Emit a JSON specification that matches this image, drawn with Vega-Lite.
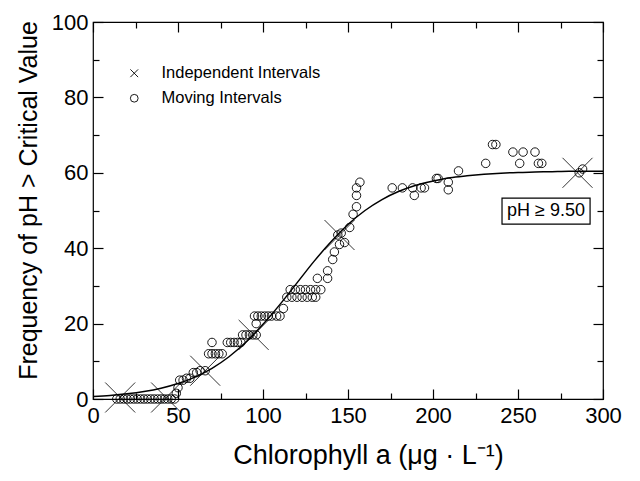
{
  "$schema": "https://vega.github.io/schema/vega-lite/v6.json",
  "width": 510,
  "height": 377,
  "autosize": "none",
  "padding": {"left": 93, "top": 22, "right": 37, "bottom": 82},
  "background": "white",
  "config": {
    "view": {"stroke": "black", "strokeWidth": 1.2},
    "font": "Liberation Sans",
    "axis": {"grid": false, "domain": false, "tickColor": "black", "tickWidth": 1.2, "labelColor": "black", "labelFont": "Liberation Sans", "titleFont": "Liberation Sans", "titleFontWeight": "normal", "titleColor": "black", "labelFlush": false, "labelOverlap": false}
  },
  "datasets": {
    "curve": [
      {"x": 0, "y": 0.65}, {"x": 10, "y": 0.95}, {"x": 20, "y": 1.38}, {"x": 30, "y": 1.99}, {"x": 40, "y": 2.86},
      {"x": 50, "y": 4.1}, {"x": 60, "y": 5.81}, {"x": 70, "y": 8.13}, {"x": 80, "y": 11.2}, {"x": 90, "y": 15.1},
      {"x": 100, "y": 19.8}, {"x": 110, "y": 25.1}, {"x": 120, "y": 30.8}, {"x": 130, "y": 36.5}, {"x": 140, "y": 41.7},
      {"x": 150, "y": 46.3}, {"x": 160, "y": 50.0}, {"x": 170, "y": 52.9}, {"x": 180, "y": 55.1}, {"x": 190, "y": 56.7},
      {"x": 200, "y": 57.8}, {"x": 210, "y": 58.7}, {"x": 220, "y": 59.2}, {"x": 230, "y": 59.6}, {"x": 240, "y": 59.9},
      {"x": 250, "y": 60.1}, {"x": 260, "y": 60.2}, {"x": 270, "y": 60.3}, {"x": 280, "y": 60.4}, {"x": 290, "y": 60.4}, {"x": 300, "y": 60.4}
    ],
    "indep": [
      {"type": "Independent Intervals", "x": 16, "y": 0.4},
      {"type": "Independent Intervals", "x": 43, "y": 0.4},
      {"type": "Independent Intervals", "x": 66, "y": 7.5},
      {"type": "Independent Intervals", "x": 94.5, "y": 17},
      {"type": "Independent Intervals", "x": 145, "y": 43.5},
      {"type": "Independent Intervals", "x": 285, "y": 60}
    ],
    "moving": [
      {"type": "Moving Intervals", "x": 14, "y": 0}, {"type": "Moving Intervals", "x": 16, "y": 0}, {"type": "Moving Intervals", "x": 18, "y": 0},
      {"type": "Moving Intervals", "x": 20, "y": 0}, {"type": "Moving Intervals", "x": 22, "y": 0}, {"type": "Moving Intervals", "x": 24, "y": 0},
      {"type": "Moving Intervals", "x": 26, "y": 0}, {"type": "Moving Intervals", "x": 28, "y": 0}, {"type": "Moving Intervals", "x": 30, "y": 0},
      {"type": "Moving Intervals", "x": 32, "y": 0}, {"type": "Moving Intervals", "x": 34, "y": 0}, {"type": "Moving Intervals", "x": 36, "y": 0},
      {"type": "Moving Intervals", "x": 38, "y": 0}, {"type": "Moving Intervals", "x": 40, "y": 0}, {"type": "Moving Intervals", "x": 42, "y": 0},
      {"type": "Moving Intervals", "x": 44, "y": 0}, {"type": "Moving Intervals", "x": 46, "y": 0}, {"type": "Moving Intervals", "x": 48, "y": 0},
      {"type": "Moving Intervals", "x": 49, "y": 1.5}, {"type": "Moving Intervals", "x": 50, "y": 3}, {"type": "Moving Intervals", "x": 51, "y": 5},
      {"type": "Moving Intervals", "x": 53, "y": 5}, {"type": "Moving Intervals", "x": 55, "y": 5.5}, {"type": "Moving Intervals", "x": 57, "y": 5.5},
      {"type": "Moving Intervals", "x": 59, "y": 7}, {"type": "Moving Intervals", "x": 61, "y": 7}, {"type": "Moving Intervals", "x": 63, "y": 7.5},
      {"type": "Moving Intervals", "x": 66, "y": 7.5},
      {"type": "Moving Intervals", "x": 68, "y": 12}, {"type": "Moving Intervals", "x": 70, "y": 12}, {"type": "Moving Intervals", "x": 72, "y": 12},
      {"type": "Moving Intervals", "x": 74, "y": 12}, {"type": "Moving Intervals", "x": 76, "y": 12}, {"type": "Moving Intervals", "x": 70, "y": 15},
      {"type": "Moving Intervals", "x": 79, "y": 15}, {"type": "Moving Intervals", "x": 81, "y": 15}, {"type": "Moving Intervals", "x": 83, "y": 15},
      {"type": "Moving Intervals", "x": 85, "y": 15}, {"type": "Moving Intervals", "x": 87, "y": 15},
      {"type": "Moving Intervals", "x": 88, "y": 17}, {"type": "Moving Intervals", "x": 90, "y": 17}, {"type": "Moving Intervals", "x": 92, "y": 17},
      {"type": "Moving Intervals", "x": 94, "y": 17}, {"type": "Moving Intervals", "x": 96, "y": 17}, {"type": "Moving Intervals", "x": 96, "y": 20},
      {"type": "Moving Intervals", "x": 95, "y": 22}, {"type": "Moving Intervals", "x": 97, "y": 22}, {"type": "Moving Intervals", "x": 99, "y": 22},
      {"type": "Moving Intervals", "x": 101, "y": 22}, {"type": "Moving Intervals", "x": 103, "y": 22}, {"type": "Moving Intervals", "x": 105, "y": 22},
      {"type": "Moving Intervals", "x": 108, "y": 22}, {"type": "Moving Intervals", "x": 110, "y": 22}, {"type": "Moving Intervals", "x": 112, "y": 24},
      {"type": "Moving Intervals", "x": 114, "y": 27}, {"type": "Moving Intervals", "x": 117, "y": 27}, {"type": "Moving Intervals", "x": 120, "y": 27},
      {"type": "Moving Intervals", "x": 123, "y": 27}, {"type": "Moving Intervals", "x": 126, "y": 27}, {"type": "Moving Intervals", "x": 129, "y": 27},
      {"type": "Moving Intervals", "x": 131, "y": 27},
      {"type": "Moving Intervals", "x": 116, "y": 29}, {"type": "Moving Intervals", "x": 119, "y": 29}, {"type": "Moving Intervals", "x": 122, "y": 29},
      {"type": "Moving Intervals", "x": 125, "y": 29}, {"type": "Moving Intervals", "x": 128, "y": 29}, {"type": "Moving Intervals", "x": 131, "y": 29},
      {"type": "Moving Intervals", "x": 134, "y": 29},
      {"type": "Moving Intervals", "x": 132, "y": 32}, {"type": "Moving Intervals", "x": 138, "y": 32}, {"type": "Moving Intervals", "x": 138, "y": 34},
      {"type": "Moving Intervals", "x": 141, "y": 37}, {"type": "Moving Intervals", "x": 142, "y": 39}, {"type": "Moving Intervals", "x": 145, "y": 41},
      {"type": "Moving Intervals", "x": 148, "y": 41.5}, {"type": "Moving Intervals", "x": 144, "y": 43.5}, {"type": "Moving Intervals", "x": 146, "y": 44},
      {"type": "Moving Intervals", "x": 151, "y": 45.5}, {"type": "Moving Intervals", "x": 153, "y": 49}, {"type": "Moving Intervals", "x": 155, "y": 51},
      {"type": "Moving Intervals", "x": 155, "y": 54}, {"type": "Moving Intervals", "x": 155, "y": 56}, {"type": "Moving Intervals", "x": 157, "y": 57.5},
      {"type": "Moving Intervals", "x": 176, "y": 56}, {"type": "Moving Intervals", "x": 182, "y": 56}, {"type": "Moving Intervals", "x": 188, "y": 56},
      {"type": "Moving Intervals", "x": 193, "y": 56}, {"type": "Moving Intervals", "x": 195, "y": 56}, {"type": "Moving Intervals", "x": 189, "y": 54},
      {"type": "Moving Intervals", "x": 202, "y": 58.5}, {"type": "Moving Intervals", "x": 203, "y": 58.5}, {"type": "Moving Intervals", "x": 209, "y": 57.5},
      {"type": "Moving Intervals", "x": 209, "y": 55.5}, {"type": "Moving Intervals", "x": 215, "y": 60.5}, {"type": "Moving Intervals", "x": 231, "y": 62.5},
      {"type": "Moving Intervals", "x": 235, "y": 67.5}, {"type": "Moving Intervals", "x": 237, "y": 67.5}, {"type": "Moving Intervals", "x": 247, "y": 65.5},
      {"type": "Moving Intervals", "x": 253, "y": 65.5}, {"type": "Moving Intervals", "x": 260, "y": 65.5}, {"type": "Moving Intervals", "x": 251, "y": 62.5},
      {"type": "Moving Intervals", "x": 262, "y": 62.5}, {"type": "Moving Intervals", "x": 264, "y": 62.5}, {"type": "Moving Intervals", "x": 286, "y": 60},
      {"type": "Moving Intervals", "x": 288, "y": 61}
    ],
    "box": [{"x1": 240.6, "x2": 292.4, "y1": 46.4, "y2": 53.3, "xm": 266.5, "ym": 49.9, "label": "pH ≥ 9.50"}]
  },
  "resolve": {"axis": {"x": "independent", "y": "independent"}},
  "layer": [
    {
      "data": {"name": "curve"},
      "mark": {"type": "line", "color": "black", "strokeWidth": 1.5, "interpolate": "monotone"},
      "encoding": {
        "x": {"field": "x", "type": "quantitative", "scale": {"domain": [0, 300], "nice": false},
          "axis": {"orient": "bottom", "values": [0, 25, 50, 75, 100, 125, 150, 175, 200, 225, 250, 275, 300],
            "tickSize": {"condition": {"test": "datum.value % 50 === 0", "value": -10}, "value": -6},
            "labelExpr": "datum.value % 50 === 0 ? datum.label : ''",
            "labelFontSize": 22, "labelPadding": 16,
            "title": "Chlorophyll a (μg · L⁻¹)", "titleFontSize": 27, "titleX": 275, "titleY": 56, "titleBaseline": "middle"}},
        "y": {"field": "y", "type": "quantitative", "scale": {"domain": [0, 100], "nice": false},
          "axis": {"orient": "left", "values": [0, 10, 20, 30, 40, 50, 60, 70, 80, 90, 100],
            "tickSize": {"condition": {"test": "datum.value % 20 === 0", "value": -10}, "value": -6},
            "labelExpr": "datum.value % 20 === 0 ? datum.label : ''",
            "labelFontSize": 22, "labelPadding": 15,
            "title": "Frequency of pH > Critical Value", "titleFontSize": 25, "titleX": -65, "titleY": 178, "titleBaseline": "middle", "titleAngle": -90}}
      }
    },
    {
      "data": {"name": "indep"},
      "mark": {"type": "point", "filled": false, "color": "black", "strokeWidth": 0.8, "opacity": 1, "size": 900},
      "encoding": {
        "x": {"field": "x", "type": "quantitative", "scale": {"domain": [0, 300], "nice": false},
          "axis": {"orient": "top", "values": [0, 25, 50, 75, 100, 125, 150, 175, 200, 225, 250, 275, 300],
            "tickSize": {"condition": {"test": "datum.value % 50 === 0", "value": -10}, "value": -6},
            "labels": false, "title": null}},
        "y": {"field": "y", "type": "quantitative", "scale": {"domain": [0, 100], "nice": false},
          "axis": {"orient": "right", "values": [0, 10, 20, 30, 40, 50, 60, 70, 80, 90, 100],
            "tickSize": {"condition": {"test": "datum.value % 20 === 0", "value": -10}, "value": -6},
            "labels": false, "title": null}},
        "shape": {"field": "type", "type": "nominal",
          "scale": {"domain": ["Independent Intervals", "Moving Intervals"], "range": ["M-1,-1L1,1M-1,1L1,-1", "circle"]},
          "legend": {"orient": "none", "legendX": 33, "legendY": 43, "title": null, "padding": 0,
            "labelFontSize": 16.5, "labelFont": "Liberation Sans", "labelColor": "black", "labelOffset": 19,
            "symbolSize": 60, "symbolStrokeColor": "black", "symbolFillColor": "transparent", "symbolStrokeWidth": 0.9, "rowPadding": 8}}
      }
    },
    {
      "data": {"name": "moving"},
      "mark": {"type": "point", "filled": false, "color": "black", "strokeWidth": 0.9, "opacity": 1, "size": 72},
      "encoding": {
        "x": {"field": "x", "type": "quantitative", "axis": null},
        "y": {"field": "y", "type": "quantitative", "axis": null},
        "shape": {"field": "type", "type": "nominal"}
      }
    },
    {
      "data": {"name": "box"},
      "mark": {"type": "rect", "fill": "white", "stroke": "black", "strokeWidth": 1.2},
      "encoding": {
        "x": {"field": "x1", "type": "quantitative", "axis": null},
        "x2": {"field": "x2"},
        "y": {"field": "y1", "type": "quantitative", "axis": null},
        "y2": {"field": "y2"}
      }
    },
    {
      "data": {"name": "box"},
      "mark": {"type": "text", "fontSize": 18, "font": "Liberation Sans", "color": "black", "align": "center", "baseline": "middle"},
      "encoding": {
        "x": {"field": "xm", "type": "quantitative", "axis": null},
        "y": {"field": "ym", "type": "quantitative", "axis": null},
        "text": {"field": "label"}
      }
    }
  ]
}
